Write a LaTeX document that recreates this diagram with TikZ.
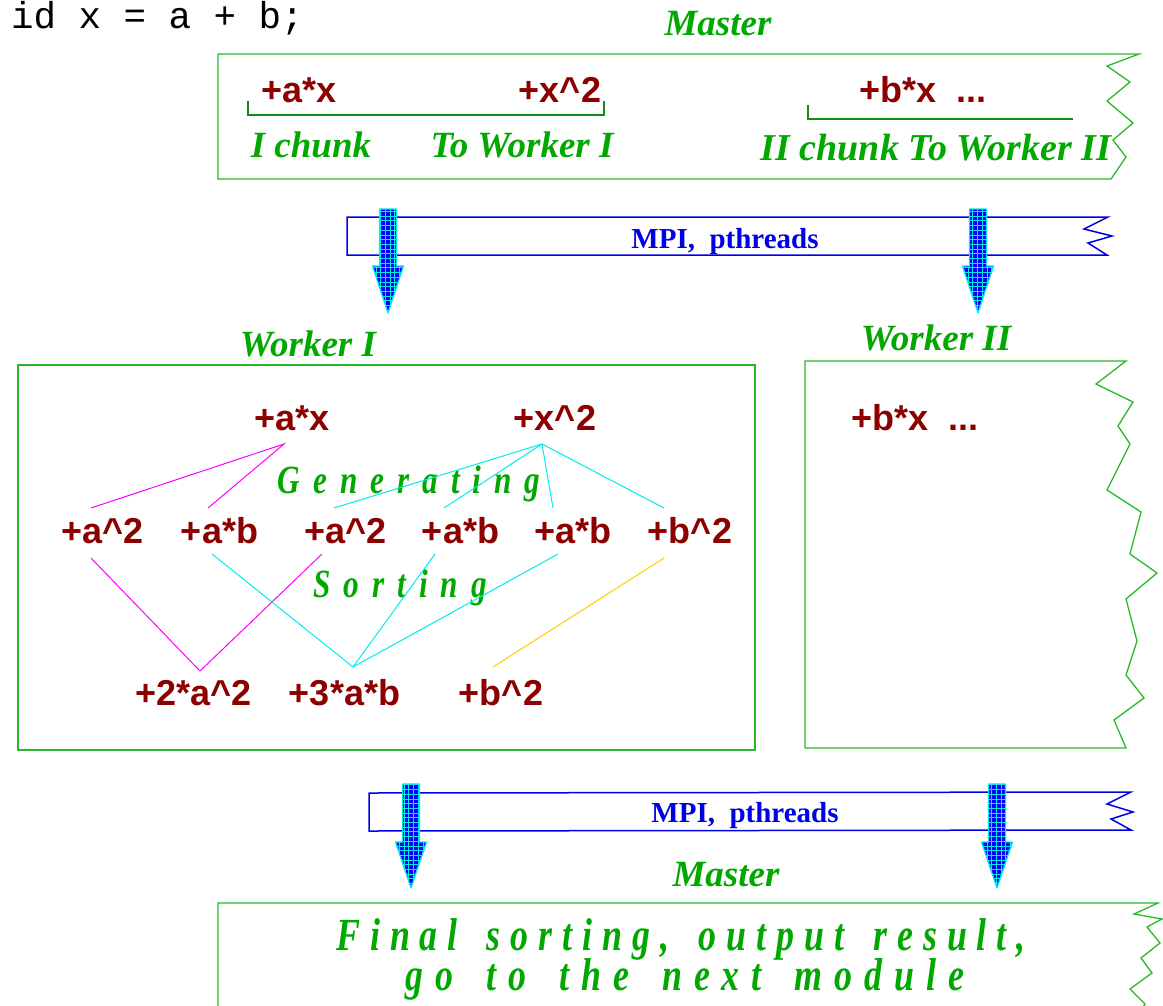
\documentclass[tikz,border=0pt]{standalone}
\usepackage{fontspec}
\setmainfont{Liberation Serif}
\newfontfamily\sansb{Liberation Sans}
\newfontfamily\monof{Liberation Mono}
\newfontfamily\condf[FakeStretch=0.78]{Liberation Serif}
\makeatletter
\newcommand\lspaced[2]{\def\ls@gap{#1}\@tfor\ls@t:=#2\do{\ls@t\hspace{\ls@gap}}\unskip}
\makeatother
\definecolor{tgreen}{RGB}{0,168,0}
\definecolor{bgreen}{RGB}{40,185,40}
\definecolor{brgreen}{RGB}{20,140,20}
\definecolor{dred}{RGB}{140,0,0}
\definecolor{mblue}{RGB}{0,0,230}
\definecolor{ablue}{RGB}{0,0,255}
\definecolor{goldl}{RGB}{255,205,0}
\definecolor{magl}{RGB}{255,0,255}
\definecolor{cyl}{RGB}{0,235,235}
\newcommand\bigarrow[4]{%
  \begin{scope}
    \path[clip] (#1-8.5,#2) -- (#1-8.5,#3) -- (#1-15.5,#3) -- (#1,#4) -- (#1+15.5,#3) -- (#1+8.5,#3) -- (#1+8.5,#2) -- cycle;
    \fill[ablue] (#1-20,#2-5) rectangle (#1+20,#4+5);
    \draw[cyl, line width=1pt, step=4.7pt] (#1-20,#2-5) grid (#1+20,#4+5);
  \end{scope}
  \draw[cyl, line width=1.3pt, line join=round] (#1-8.5,#2) -- (#1-8.5,#3) -- (#1-15.5,#3) -- (#1,#4) -- (#1+15.5,#3) -- (#1+8.5,#3) -- (#1+8.5,#2) -- cycle;
}
\begin{document}
\begin{tikzpicture}[x=1pt,y=-1pt,
  lbl/.style={font=\fontsize{37}{42}\selectfont\bfseries\itshape, text=tgreen, inner sep=0, anchor=base},
  term/.style={font=\sansb\bfseries\fontsize{36}{40}\selectfont, text=dred, inner sep=0, anchor=base},
  mpi/.style={font=\bfseries\fontsize{29}{31}\selectfont, text=mblue, inner sep=0, anchor=base},
  code/.style={font=\monof\fontsize{37.5}{40}\selectfont, text=black, inner sep=0, anchor=base west},
  spaced/.style={font=\condf\bfseries\itshape\fontsize{40}{44}\selectfont, text=tgreen, inner sep=0, anchor=base},
  boxline/.style={draw=bgreen, line width=1.3pt, line join=miter},
  brk/.style={draw=brgreen, line width=1.3pt},
  band/.style={draw=mblue, line width=1.5pt},
  mag/.style={draw=magl, line width=1pt},
  cya/.style={draw=cyl, line width=1pt},
  gld/.style={draw=goldl, line width=1pt}]
\useasboundingbox (0,0) rectangle (1163,1005);
\clip (0,0) rectangle (1163,1005);

% code line
\node[code] (code) at (11,28) {id x = a + b;};

% ---- Master (top)
\node[lbl] (m1) at (718,35) {Master};
\draw[boxline] (1139,54) -- (218,54) -- (218,179) -- (1111,179) -- (1126,157) -- (1113,140) -- (1133,123) -- (1107,101) -- (1130,82) -- (1107,66) -- cycle;
\node[term] (mx1) at (299,102) {+a*x};
\node[term] (mx2) at (560,102) {+x\textasciicircum 2};
\node[term] (mbx) at (923,102) {+b*x\ \ ...};
\draw[brk] (248,101) -- (248,115) -- (604,115) -- (604,101);
\draw[brk] (808,105) -- (808,119) -- (1073,119);
\node[lbl] (ch1) at (311,157) {I chunk};
\node[lbl] (tw1) at (522,157) {To Worker I};
\node[lbl, font=\fontsize{38}{42}\selectfont\bfseries\itshape] (ch2) at (936,160) {II chunk To Worker II};

% ---- band 1
\draw[band] (1108,217) -- (347,217) -- (347,255) -- (1107,255) -- (1088,243) -- (1112,236) -- (1084,229) -- cycle;
\node[mpi] (mpi1) at (725,248) {MPI,\ \ pthreads};
\bigarrow{388}{209}{266}{313}
\bigarrow{978}{209}{266}{313}

% ---- Workers
\node[lbl] (w1) at (308,356) {Worker I};
\node[lbl] (w2) at (936,350) {Worker II};
\draw[boxline] (18,365) rectangle (755,750);
\draw[boxline] (1126,361) -- (805,361) -- (805,748) -- (1126,748) -- (1114,720) -- (1144,698) -- (1126,675) -- (1137,641) -- (1126,599) -- (1157,573) -- (1130,554) -- (1141,512) -- (1107,490) -- (1130,444) -- (1118,426) -- (1133,402) -- (1096,384) -- cycle;
\node[term] (w2bx) at (915,430) {+b*x\ \ ...};

% Worker I terms
\node[term] (wax) at (292,430) {+a*x};
\node[term] (wxx) at (555,430) {+x\textasciicircum 2};
\node[term] (r1) at (102.5,543) {+a\textasciicircum 2};
\node[term] (r2) at (219.5,543) {+a*b};
\node[term] (r3) at (345.5,543) {+a\textasciicircum 2};
\node[term] (r4) at (460.5,543) {+a*b};
\node[term] (r5) at (573,543) {+a*b};
\node[term] (r6) at (690,543) {+b\textasciicircum 2};
\node[term] (s1) at (193.5,705) {+2*a\textasciicircum 2};
\node[term] (s2) at (344.5,705) {+3*a*b};
\node[term] (s3) at (501,705) {+b\textasciicircum 2};
\node[spaced] (gen) at (409,493) {\lspaced{13pt}{Generating}};
\node[spaced] (sor) at (400,597) {\lspaced{13pt}{Sorting}};

% connector points
\coordinate (ga) at (284,444);
\coordinate (gb) at (542,444);
\coordinate (t1) at (91,508);
\coordinate (t2) at (208,508);
\coordinate (t3) at (334,508);
\coordinate (t4) at (444,508);
\coordinate (t5) at (553,508);
\coordinate (t6) at (664,508);
\coordinate (u1) at (91,558);
\coordinate (u2) at (212,554);
\coordinate (u3) at (322,554);
\coordinate (u4) at (435,554);
\coordinate (u5) at (558,554);
\coordinate (u6) at (664,558);
\coordinate (sa) at (200,671);
\coordinate (sb) at (353,667);
\coordinate (sc) at (493,667);
\draw[mag] (t1) -- (ga) -- (t2);
\draw[cya] (gb) -- (t3);
\draw[cya] (gb) -- (t4);
\draw[cya] (gb) -- (t5);
\draw[cya] (gb) -- (t6);
\draw[mag] (u1) -- (sa) -- (u3);
\draw[cya] (u2) -- (sb);
\draw[cya] (u4) -- (sb);
\draw[cya] (u5) -- (sb);
\draw[gld] (u6) -- (sc);

% ---- band 2
\draw[band] (1131,792) -- (369,793) -- (369,831) -- (1131,830) -- (1111,819) -- (1133,812) -- (1107,804) -- cycle;
\node[mpi] (mpi2) at (745,822) {MPI,\ \ pthreads};
\bigarrow{411}{784}{842}{888}
\bigarrow{997}{784}{842}{888}

% ---- Master (bottom)
\node[lbl] (m2) at (726,886) {Master};
\draw[boxline] (218,1012) -- (218,903) -- (1158,903) -- (1134,914) -- (1162,919) -- (1147,927) -- (1160,943) -- (1141,958) -- (1152,973) -- (1130,989) -- (1145,1004) -- (1140,1012);
\node[spaced, font=\condf\bfseries\itshape\fontsize{46}{42}\selectfont] (fin1) at (681,950)
  {\lspaced{10pt}{Final~sorting,~output~result,}};
\node[spaced, font=\condf\bfseries\itshape\fontsize{46}{42}\selectfont] (fin2) at (685,990)
  {\lspaced{12pt}{go~to~the~next~module}};
\end{tikzpicture}
\end{document}
